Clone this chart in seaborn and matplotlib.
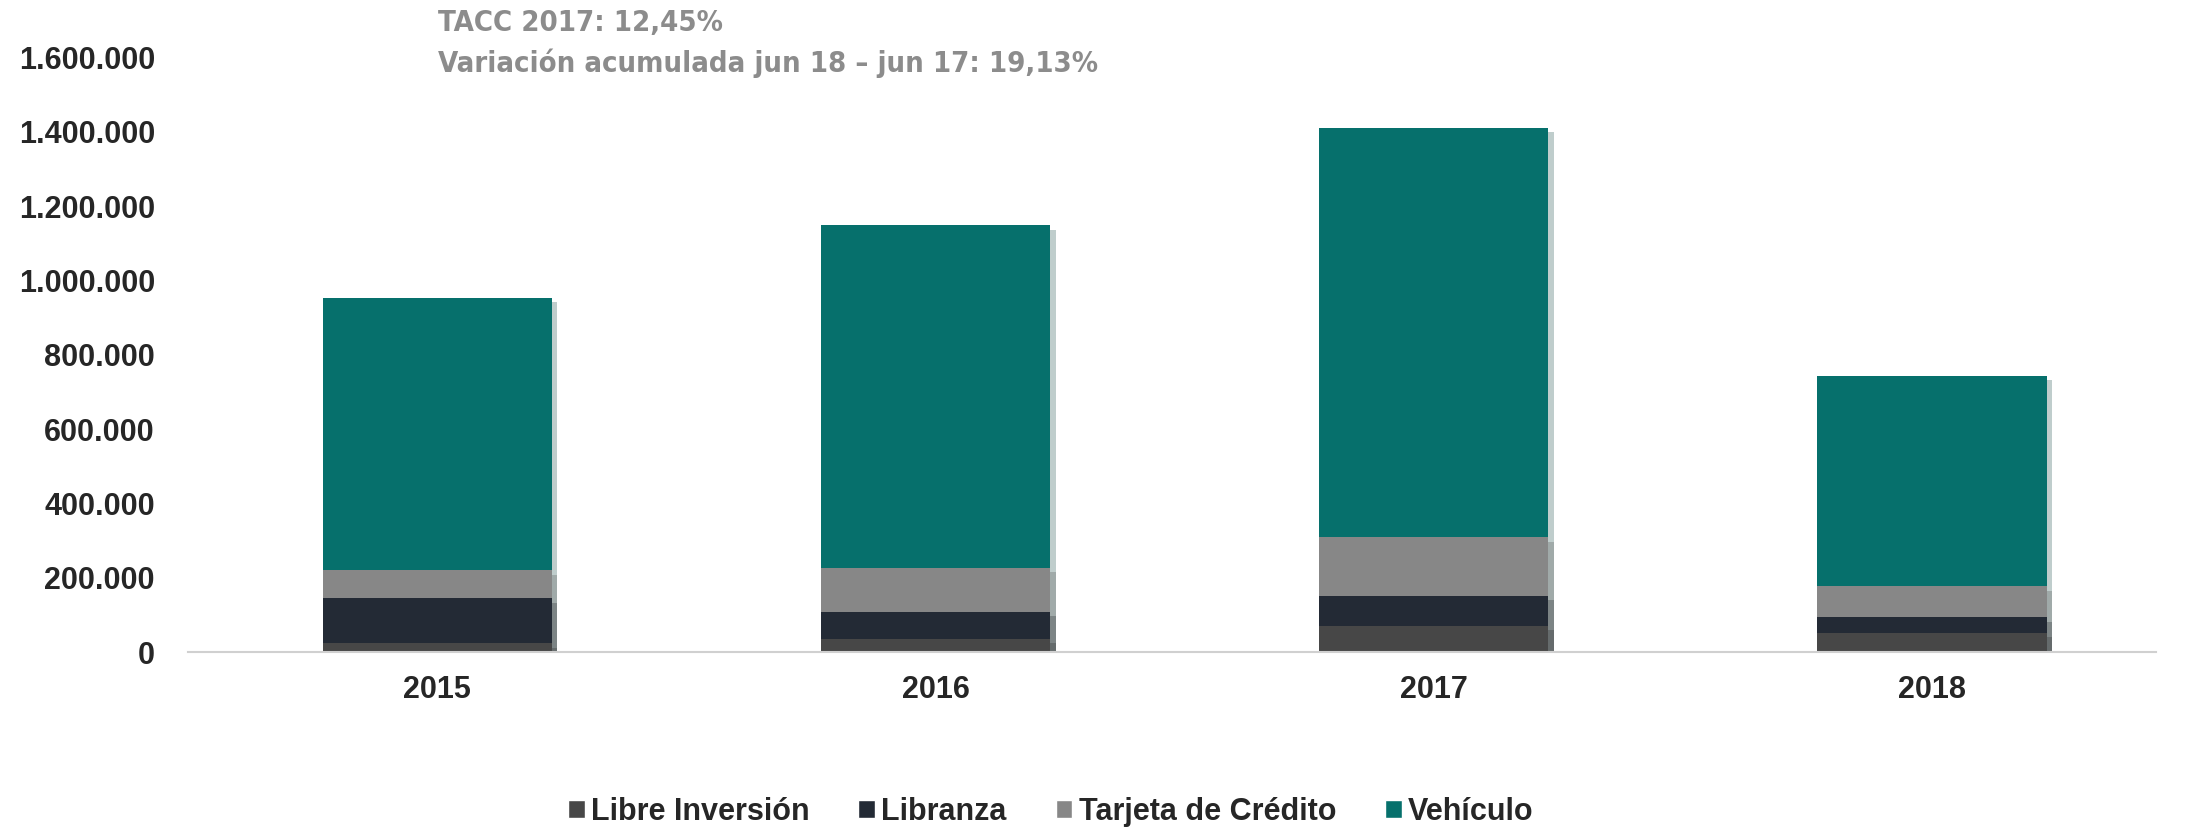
import numpy as np
import pandas as pd
import seaborn as sns
import matplotlib
matplotlib.use('Agg')
from matplotlib import pyplot as plt
from matplotlib import patheffects as pe
from matplotlib.patches import Patch
from matplotlib.ticker import FuncFormatter

years = ['2015', '2016', '2017', '2018']
series = ['Libre Inversión', 'Libranza', 'Tarjeta de Crédito', 'Vehículo']
libre = [24000, 35000, 70000, 51000]
libranza = [121000, 73000, 81000, 43000]
tarjeta = [75000, 118000, 158000, 83000]
vehiculo = [734000, 922000, 1102000, 566000]
colors = ['#474747', '#232a35', '#878787', '#06706c']

df = pd.DataFrame({'Año': years, series[0]: libre, series[1]: libranza,
                   series[2]: tarjeta, series[3]: vehiculo})
cum = df[series].cumsum(axis=1)

sns.set_style('white')
plt.rcParams['font.family'] = ['Liberation Sans', 'DejaVu Sans']

fig, ax = plt.subplots(figsize=(21.89, 8.32), dpi=100)
fig.subplots_adjust(left=0.086, right=0.985, bottom=0.216, top=0.931)

# stacked bars: draw the running totals from the top series down
for s, c in reversed(list(zip(series, colors))):
    sns.barplot(x=df['Año'], y=cum[s], color=c, width=0.46, saturation=1, ax=ax)

shadow = [pe.SimplePatchShadow(offset=(4, -3), alpha=0.25, rho=0.5), pe.Normal()]
for p in ax.patches:
    p.set_path_effects(shadow)
    p.set_linewidth(0)

ax.set_xlim(-0.5, 3.45)
ax.set_ylim(0, 1600000)
ax.set_yticks(np.arange(0, 1600001, 200000))
ax.yaxis.set_major_formatter(FuncFormatter(lambda v, _: f'{int(v):,}'.replace(',', '.')))
ax.set_xlabel('')
ax.set_ylabel('')
for side in ['top', 'right', 'left']:
    ax.spines[side].set_visible(False)
ax.spines['bottom'].set_color('#d0d0d0')
ax.spines['bottom'].set_linewidth(1.5)
ax.tick_params(axis='both', length=0, labelsize=22)
ax.tick_params(axis='x', pad=16)
ax.tick_params(axis='y', pad=24)
for lab in ax.get_xticklabels() + ax.get_yticklabels():
    lab.set_fontweight('bold')

fig.text(0.2, 0.972, 'TACC 2017: 12,45%', color='#8c8c8c', fontsize=21,
         fontweight='bold', family='DejaVu Sans', stretch='condensed', va='center')
fig.text(0.2, 0.924, 'Variación acumulada jun 18 – jun 17: 19,13%', color='#8c8c8c',
         fontsize=21, fontweight='bold', family='DejaVu Sans', stretch='condensed', va='center')

handles = [Patch(facecolor=c, label=s) for s, c in zip(series, colors)]
fig.legend(handles=handles, loc='center', bbox_to_anchor=(0.48, 0.024), ncol=4, frameon=False,
           prop={'weight': 'bold', 'size': 22}, handlelength=0.55, handleheight=0.55,
           handletextpad=0.2, columnspacing=1.6)

fig.savefig('out.png', dpi=100)
